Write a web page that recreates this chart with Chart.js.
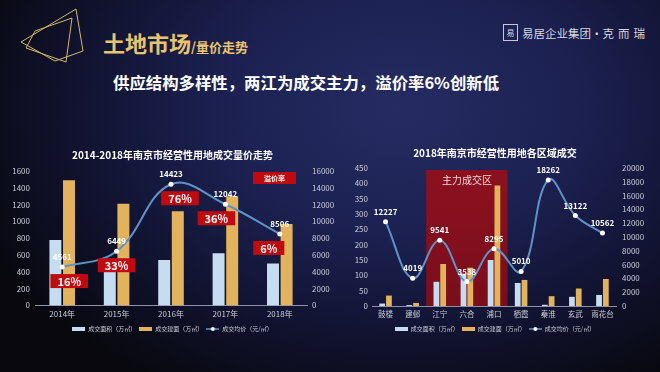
<!DOCTYPE html>
<html>
<head>
<meta charset="utf-8">
<script src="https://cdn.jsdelivr.net/npm/chart.js@4.4.0/dist/chart.umd.min.js"></script>
<style>
html, body { margin: 0; padding: 0; }
body {
  width: 660px; height: 372px; overflow: hidden; position: relative;
  font-family: "Noto Sans CJK SC", sans-serif;
  background: radial-gradient(ellipse 460px 320px at 400px 110px, #262c62 0%, #1c2152 38%, #121433 68%, #08080e 100%);
}
.deco { position: absolute; left: 0; top: 0; }
.head { position: absolute; left: 103px; top: 26px; color: #e9c46f; font-weight: 700; white-space: nowrap; }
.head .big { font-size: 22px; }
.head .small { font-size: 13px; }
.sub { position: absolute; left: 113px; top: 70px; color: #ffffff; font-weight: 700; font-size: 16.4px; white-space: nowrap; }
.logo { position: absolute; left: 503px; top: 24px; color: #d8d8e0; font-size: 11.5px; white-space: nowrap; display: flex; align-items: center; }
.logo .mark { width: 13px; height: 15px; border: 1px solid #c8c8d0; font-size: 8px; line-height: 15px; text-align: center; margin-right: 4px; }
.logo .brand { letter-spacing: 4px; }
.box { position: absolute; top: 140px; }
</style>
</head>
<body>
<svg class="deco" width="110" height="70">
  <polygon points="21,42 76,9 83,51 55,61" fill="none" stroke="#d3b86c" stroke-width="1"/>
  <polygon points="35,31 72,18 66,62 26,48" fill="none" stroke="#d3b86c" stroke-width="1"/>
</svg>
<div class="head"><span class="big">土地市场</span><span class="small">/量价走势</span></div>
<div class="sub">供应结构多样性，两江为成交主力，溢价率6%创新低</div>
<div class="logo"><span class="mark">易</span>易居企业集团·<span class="brand">克而瑞</span></div>

<div class="box" style="left:0px;width:345px;height:202px;"><canvas id="left" width="345" height="202"></canvas></div>
<div class="box" style="left:330px;width:330px;height:202px;"><canvas id="right" width="330" height="202"></canvas></div>

<script>
// left chart: 2014-2018
const years = ['2014年', '2015年', '2016年', '2017年', '2018年'];
const yearArea = [780, 430, 540, 620, 500];
const yearBuild = [1490, 1210, 1120, 1300, 970];
const yearPrice = [4561, 6449, 14423, 12042, 8506];
const yearPremium = ['16%', '33%', '76%', '36%', '6%'];

// right chart: 2018 by district
const districts = ['鼓楼', '建邺', '江宁', '六合', '浦口', '栖霞', '秦淮', '玄武', '雨花台'];
const distArea = [8, 3, 79, 105, 150, 75, 4, 30, 36];
const distBuild = [34, 10, 137, 125, 393, 85, 32, 57, 88];
const distPrice = [12227, 4019, 9541, 3538, 8295, 5010, 18262, 13122, 10562];

const seriesNames = ['成交面积（万㎡）', '成交建面（万㎡）', '成交均价（元/㎡）'];

const FONT = '"Noto Sans CJK SC", sans-serif';
const BLUE_BAR = '#c6dcf0';
const GOLD_BAR = '#e2b35c';
const LINE = '#5f93c8';
const TICK = '#c9ccd8';

function makeIcon(color, isLine) {
  const c = document.createElement('canvas');
  c.width = 13; c.height = 6;
  const g = c.getContext('2d');
  if (isLine) {
    g.strokeStyle = color; g.lineWidth = 1.5;
    g.beginPath(); g.moveTo(0, 3); g.lineTo(13, 3); g.stroke();
    g.fillStyle = '#fff'; g.beginPath(); g.arc(6.5, 3, 2, 0, Math.PI * 2); g.fill();
  } else {
    g.fillStyle = color; g.fillRect(0, 1, 13, 4);
  }
  return c;
}
const icons = [makeIcon(BLUE_BAR), makeIcon(GOLD_BAR), makeIcon(LINE, true)];

// value labels above the line points
const priceLabels = {
  id: 'priceLabels',
  afterDatasetsDraw(chart) {
    const ctx = chart.ctx;
    const meta = chart.getDatasetMeta(2);
    const vals = chart.data.datasets[2].data;
    ctx.save();
    ctx.font = 'bold 8px ' + FONT;
    ctx.fillStyle = '#ffffff';
    ctx.textAlign = 'center';
    ctx.textBaseline = 'middle';
    meta.data.forEach((pt, i) => ctx.fillText(String(vals[i]), pt.x, pt.y - 10));
    ctx.restore();
  }
};

// red premium-rate boxes, hung under the line points
const premiumShift = [7, 0, 9, -9, -11];
const premiumBoxes = {
  id: 'premiumBoxes',
  afterDatasetsDraw(chart) {
    const ctx = chart.ctx;
    const meta = chart.getDatasetMeta(2);
    ctx.save();
    ctx.textAlign = 'center';
    ctx.textBaseline = 'middle';
    ctx.font = 'bold 11px ' + FONT;
    meta.data.forEach((pt, i) => {
      const cx = pt.x + premiumShift[i], cy = pt.y + 14;
      const w = ctx.measureText(yearPremium[i]).width + 14;
      ctx.fillStyle = '#c10a0f';
      ctx.fillRect(cx - w / 2, cy - 7, w, 14);
      ctx.fillStyle = '#ffffff';
      ctx.fillText(yearPremium[i], cx, cy + 0.5);
    });
    // key box
    const a = chart.chartArea;
    ctx.font = 'bold 7px ' + FONT;
    ctx.fillStyle = '#c10a0f';
    ctx.fillRect(a.right - 54, a.top + 1, 43, 12);
    ctx.fillStyle = '#ffffff';
    ctx.fillText('溢价率', a.right - 32.5, a.top + 7.5);
    ctx.restore();
  }
};

// shaded "main trading area" band behind 江宁..浦口
const mainZone = {
  id: 'mainZone',
  beforeDatasetsDraw(chart) {
    const ctx = chart.ctx, x = chart.scales.x, a = chart.chartArea;
    const half = (x.getPixelForValue(1) - x.getPixelForValue(0)) / 2;
    const l = x.getPixelForValue(2) - half, r = x.getPixelForValue(4) + half;
    ctx.save();
    const grad = ctx.createLinearGradient(0, a.top, 0, a.bottom);
    grad.addColorStop(0, '#8c1120');
    grad.addColorStop(1, '#7a0e1b');
    ctx.fillStyle = grad;
    ctx.fillRect(l, a.top + 2, r - l, a.bottom - a.top - 2);
    ctx.fillStyle = '#f2d6d6';
    ctx.font = '10px ' + FONT;
    ctx.textAlign = 'center';
    ctx.textBaseline = 'middle';
    ctx.fillText('主力成交区', (l + r) / 2, a.top + 12);
    ctx.restore();
  }
};

function buildChart(id, labels, area, build, price, opt) {
  const tickFont = { size: 8, family: FONT };
  return new Chart(document.getElementById(id), {
    type: 'bar',
    data: {
      labels: labels,
      datasets: [
        { label: seriesNames[0], data: area, backgroundColor: BLUE_BAR, yAxisID: 'y', order: 2,
          categoryPercentage: opt.cat, barPercentage: opt.bar },
        { label: seriesNames[1], data: build, backgroundColor: GOLD_BAR, yAxisID: 'y', order: 2,
          categoryPercentage: opt.cat, barPercentage: opt.bar },
        { label: seriesNames[2], data: price, type: 'line', yAxisID: 'y1', order: 1,
          borderColor: LINE, borderWidth: 2, tension: 0.4, pointRadius: 2.5,
          pointBackgroundColor: '#ffffff', pointBorderColor: '#ffffff', pointBorderWidth: 0 }
      ]
    },
    options: {
      responsive: false,
      animation: false,
      layout: { padding: 0 },
      plugins: {
        title: { display: true, text: opt.title, color: '#ffffff',
          font: { size: 10, weight: 'bold', family: FONT }, padding: { top: opt.titleTop, bottom: opt.titleBottom } },
        legend: {
          position: 'bottom',
          labels: {
            color: TICK, font: { size: 6, family: FONT }, usePointStyle: true, pointStyleWidth: 13,
            boxHeight: 6, padding: 3,
            generateLabels(chart) {
              const items = Chart.defaults.plugins.legend.labels.generateLabels(chart);
              items.sort((a, b) => a.datasetIndex - b.datasetIndex);
              items.forEach(it => { it.pointStyle = icons[it.datasetIndex]; });
              return items;
            }
          }
        },
        tooltip: { enabled: false }
      },
      scales: {
        x: {
          grid: { display: false, drawTicks: false, tickLength: 0 },
          border: { display: true, color: '#8d92a6', width: 1 },
          ticks: { color: TICK, font: { size: opt.xFont, family: FONT }, padding: 4,
            maxRotation: 0, minRotation: 0, autoSkip: false }
        },
        y: {
          position: 'left', min: 0, max: opt.yMax,
          grid: { display: false, drawTicks: false }, border: { display: false },
          ticks: { stepSize: opt.yStep, color: TICK, font: tickFont, padding: opt.yPad,
            autoSkip: false, callback: v => String(v) },
          afterFit(s) { s.width = opt.yWidth; }
        },
        y1: {
          position: 'right', min: 0, max: opt.y1Max,
          grid: { display: false, drawTicks: false }, border: { display: false },
          ticks: { stepSize: opt.y1Step, color: TICK, font: tickFont, padding: opt.y1Pad,
            autoSkip: false, callback: v => String(v) },
          afterFit(s) { s.width = opt.y1Width; }
        }
      }
    },
    plugins: opt.plugins
  });
}

buildChart('left', years, yearArea, yearBuild, yearPrice, {
  title: '2014-2018年南京市经营性用地成交量价走势',
  titleTop: 9, titleBottom: 10,
  cat: 0.5, bar: 0.88, xFont: 8,
  yMax: 1600, yStep: 200, yWidth: 35, yPad: 5,
  y1Max: 16000, y1Step: 2000, y1Width: 38, y1Pad: 5,
  plugins: [priceLabels, premiumBoxes]
});

buildChart('right', districts, distArea, distBuild, distPrice, {
  title: '2018年南京市经营性用地各区域成交',
  titleTop: 7, titleBottom: 9,
  cat: 0.5, bar: 0.85, xFont: 7.5,
  yMax: 450, yStep: 50, yWidth: 42, yPad: 4,
  y1Max: 20000, y1Step: 2000, y1Width: 44, y1Pad: 6,
  plugins: [mainZone, priceLabels]
});
</script>
</body>
</html>
